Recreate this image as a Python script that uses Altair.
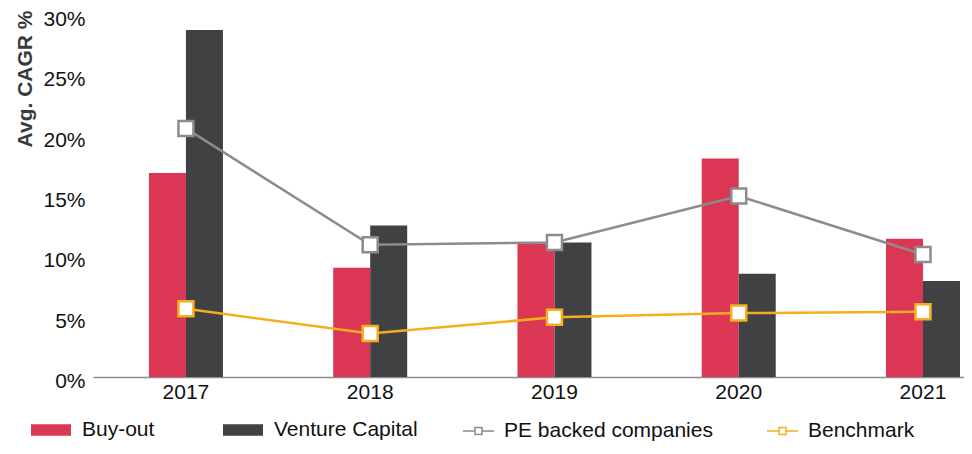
import altair as alt
import pandas as pd

years = ["2017", "2018", "2019", "2020", "2021"]
buyout = [16.9, 9.05, 11.05, 18.1, 11.45]
venture = [28.75, 12.55, 11.15, 8.55, 7.95]
pe_backed = [20.6, 10.95, 11.15, 15.0, 10.15]
benchmark = [5.65, 3.6, 4.95, 5.3, 5.4]

bar_series = ["Buy-out", "Venture Capital"]
line_series = ["PE backed companies", "Benchmark"]
bar_colors = ["#DB3654", "#414143"]
line_colors = ["#8C8C8C", "#F4AE1E"]
y_ticks = [0, 5, 10, 15, 20, 25, 30]

bars_df = pd.DataFrame({
    "year": years * 2,
    "series": [bar_series[0]] * len(years) + [bar_series[1]] * len(years),
    "value": buyout + venture,
})
lines_df = pd.DataFrame({
    "year": years * 2,
    "series": [line_series[0]] * len(years) + [line_series[1]] * len(years),
    "value": pe_backed + benchmark,
})

FONT = "Liberation Sans"

x_enc = alt.X(
    "year:N", sort=years,
    scale=alt.Scale(paddingInner=0.5984, paddingOuter=0.1627, align=0.933),
    axis=alt.Axis(title=None, labelAngle=0, labelFontSize=21, labelColor="#111111",
                  labelPadding=15, labelBaseline="middle", ticks=False, tickSize=0,
                  domainColor="#8C8C8C", domainWidth=1.5, grid=False),
)
y_enc = alt.Y(
    "value:Q",
    scale=alt.Scale(domain=[0, 30], nice=False, zero=True),
    axis=alt.Axis(values=y_ticks, labelExpr="datum.value + '%'", title="Avg. CAGR %",
                  titleFontSize=21, titleFontWeight="bold", titleColor="#3a3a3a",
                  titleX=-68, titleY=-5, titleAngle=270, titleAlign="right",
                  titleBaseline="middle", grid=False, domain=False, ticks=False,
                  tickSize=0, labelPadding=8, labelFontSize=21, labelColor="#111111",
                  labelOffset=4.5),
)

bars = alt.Chart(bars_df).mark_bar().encode(
    x=x_enc,
    xOffset=alt.XOffset("series:N", sort=bar_series,
                        scale=alt.Scale(paddingInner=0, paddingOuter=0)),
    y=y_enc,
    color=alt.Color("series:N", sort=bar_series,
                    scale=alt.Scale(domain=bar_series, range=bar_colors),
                    legend=alt.Legend(orient="none", legendX=-62, legendY=395,
                                      direction="horizontal", title=None,
                                      symbolType="M-1,-0.29H1V0.29H-1Z", symbolSize=1600,
                                      symbolStrokeWidth=0, labelFontSize=21, labelOffset=11,
                                      columnPadding=68, padding=0, labelColor="#111111",
                                      labelLimit=400)),
)

lines = alt.Chart(lines_df).mark_line(strokeWidth=2.5).encode(
    x=x_enc,
    y=y_enc,
    stroke=alt.Stroke("series:N", sort=line_series,
                      scale=alt.Scale(domain=line_series, range=line_colors),
                      legend=alt.Legend(orient="none", legendX=360, legendY=395,
                                        direction="horizontal", title=None,
                                        symbolType="M-0.55,0H0.05M0.4,0H1M0.05,-0.175H0.4V0.175H0.05Z",
                                        symbolSize=1600, symbolStrokeWidth=1.5,
                                        symbolFillColor="white", labelFontSize=21,
                                        labelOffset=9, columnPadding=44, padding=0,
                                        labelColor="#111111", labelLimit=400)),
)

points = alt.Chart(lines_df).mark_point(shape="square", filled=True, fill="white",
                                        size=225, strokeWidth=2.5, opacity=1).encode(
    x=x_enc,
    y=y_enc,
    stroke=alt.Stroke("series:N", sort=line_series, legend=None),
)

chart = alt.layer(bars, lines, points).properties(
    width=871, height=362,
    autosize=alt.AutoSizeParams(type="none"),
    padding={"left": 85, "top": 7, "right": 0, "bottom": 69},
).configure(font=FONT).configure_view(stroke=None)

chart.save("out.html", embed_options={"renderer": "svg", "actions": False})
